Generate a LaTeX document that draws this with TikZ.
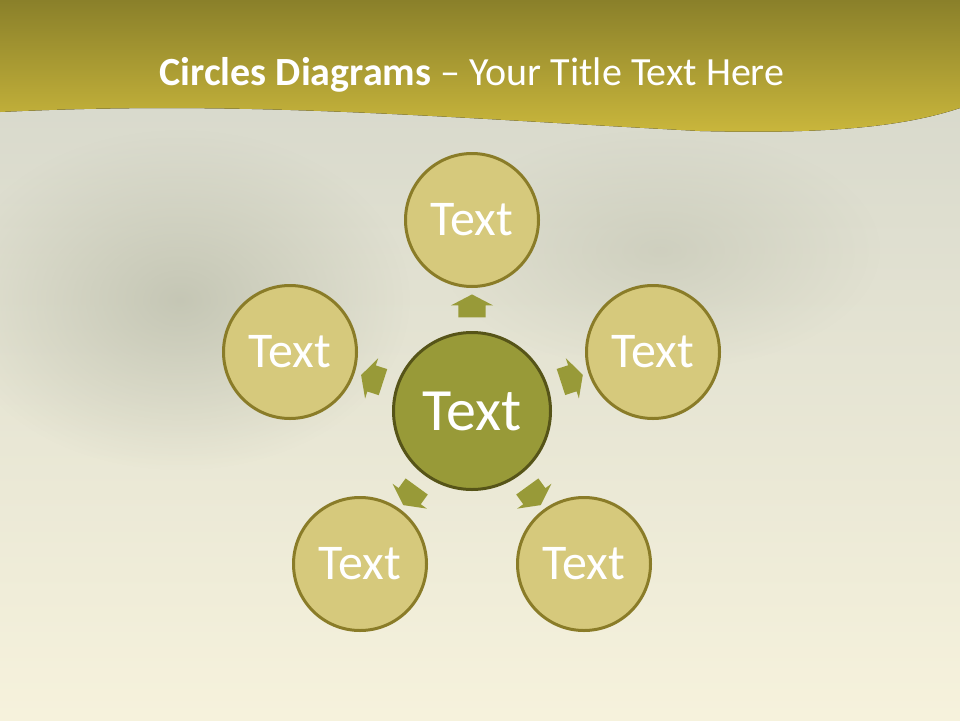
\documentclass[tikz,border=0pt]{standalone}
\usepackage{fontspec}
\setmainfont{Carlito}
\usepackage{tikz}
\usetikzlibrary{arrows.meta, shapes, positioning, calc, fadings}
\usepackage{xcolor}
\definecolor{bandtop}{RGB}{138,128,42}
\definecolor{bandbottom}{RGB}{202,183,60}
\definecolor{bgtop}{RGB}{216,217,204}
\definecolor{bgmiddle}{RGB}{228,226,206}
\definecolor{bgbottom}{RGB}{246,242,220}
\definecolor{bgblob}{RGB}{190,192,174}
\definecolor{paleolive}{RGB}{214,201,124}
\definecolor{paleolivedark}{RGB}{138,124,40}
\definecolor{olive}{RGB}{152,154,56}
\definecolor{olivedark}{RGB}{86,84,24}
\tikzfading[name=softblob, inner color=transparent!0, outer color=transparent!100]
\tikzset{outercircle/.style={circle, fill=paleolive, draw=paleolivedark, line width=3pt, minimum size=133pt, inner sep=0pt, text=white, font=\fontsize{50}{54}\selectfont},
centercircle/.style={circle, fill=olive, draw=olivedark, line width=3pt, minimum size=157pt, inner sep=0pt, text=white, font=\fontsize{60}{64}\selectfont},
blockarrow/.style={single arrow, fill=olive, draw=none, minimum height=23pt, inner xsep=0pt, inner ysep=13.5pt, single arrow head extend=7.5pt, single arrow tip angle=125}}

\begin{document}
\begin{tikzpicture}[x=1pt, y=-1pt]
        \useasboundingbox (0,0) rectangle (960,720);
        % Background
        \fill[top color=bgtop, middle color=bgmiddle, bottom color=bgbottom] (0,90) rectangle (960,720);
        \fill[bgblob, path fading=softblob, fill opacity=0.8] (180,300) ellipse (230pt and 170pt);
        \fill[bgblob, path fading=softblob, fill opacity=0.5] (660,250) ellipse (220pt and 120pt);
        % Title band
        \fill[top color=bandtop, bottom color=bandbottom] (0,0) -- (960,0) -- (960,108)
            .. controls (900,128) and (820,134) .. (700,131)
            .. controls (450,118) and (250,100) .. (0,112) -- cycle;
        \node[text=white, font=\fontsize{40}{44}\selectfont] (title) at (472,75) {\textbf{Circles Diagrams} -- Your Title Text Here};
        % Circles
        \node[centercircle] (ctr) at (472,411) {Text};
        \node[outercircle] (top) at (472,220) {Text};
        \node[outercircle] (right) at (653,352) {Text};
        \node[outercircle] (left) at (290,352) {Text};
        \node[outercircle] (botright) at (584,564) {Text};
        \node[outercircle] (botleft) at (360,564) {Text};
        % Arrows
        \foreach \target/\angle in {top/90, right/18, left/162, botright/-54, botleft/-126} {
            \node[blockarrow, rotate=\angle] (arr-\target) at ($(ctr.center)!101.5pt!(\target.center)$) {};
        }
    \end{tikzpicture}
\end{document}
